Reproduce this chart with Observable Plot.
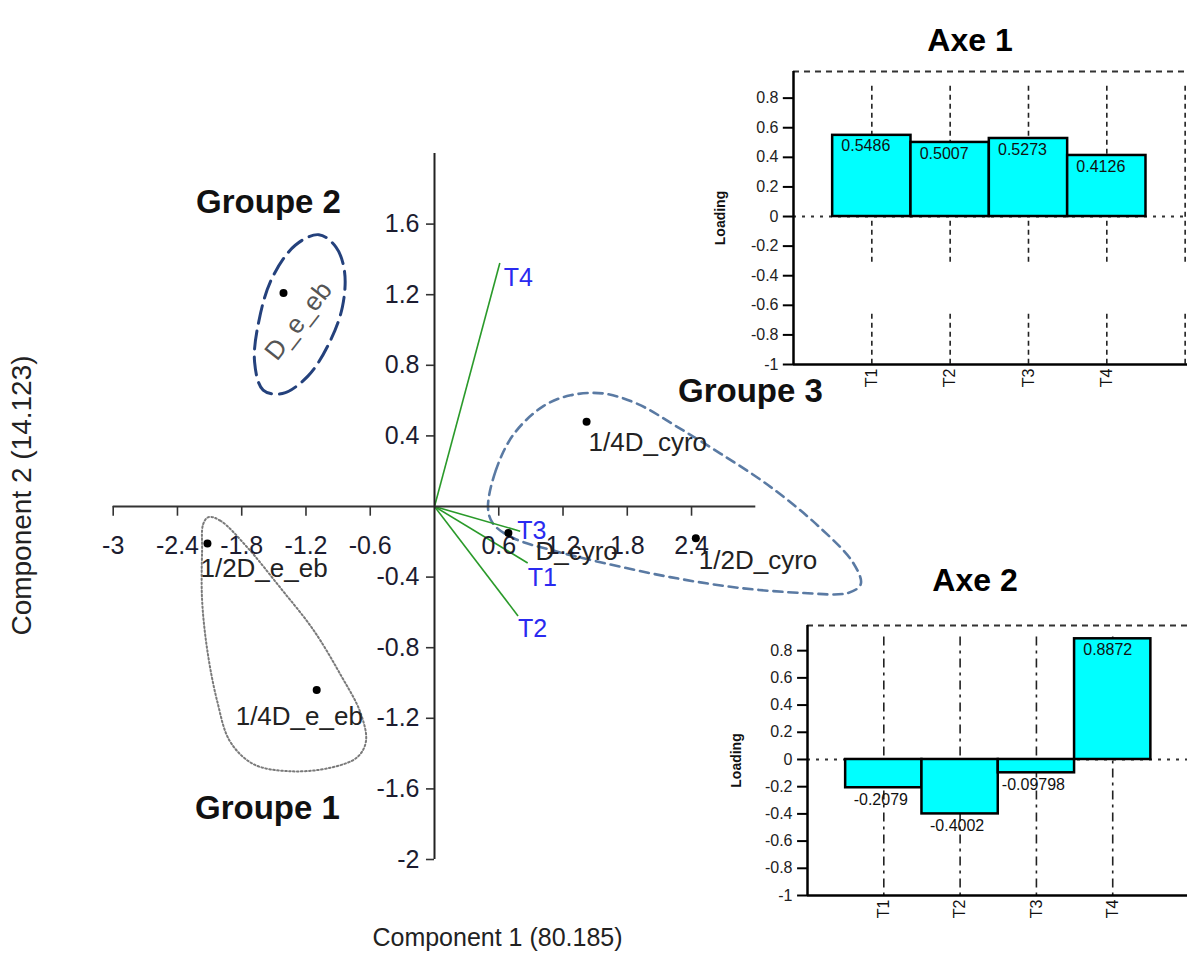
<!DOCTYPE html>
<html><head><meta charset="utf-8">
<script src="https://cdn.jsdelivr.net/npm/d3@7"></script>
<script src="https://cdn.jsdelivr.net/npm/@observablehq/plot@0.6"></script>
<style>
body{margin:0;background:#fff;font-family:"Liberation Sans",Arial,sans-serif;}
#wrap{position:relative;width:1187px;height:965px;overflow:hidden;background:#fff;}
.layer{position:absolute;}
.title{position:absolute;font-weight:bold;font-size:32px;transform:translate(-50%,-50%);white-space:nowrap;color:#000;}
</style></head><body><div id="wrap"></div>
<script>
// ---------- DATA ----------
const sampleNames = ["D_e_eb", "1/2D_e_eb", "1/4D_e_eb", "1/4D_cyro", "D_cyro", "1/2D_cyro"];
const sampleX = [-1.41, -2.12, -1.10, 1.42, 0.69, 2.44];
const sampleY = [1.21, -0.21, -1.04, 0.48, -0.15, -0.18];

const varNames = ["T1", "T2", "T3", "T4"];
const varX = [0.87, 0.78, 0.80, 0.61];
const varY = [-0.32, -0.62, -0.14, 1.38];

const xTicks = [-3, -2.4, -1.8, -1.2, -0.6, 0.6, 1.2, 1.8, 2.4];
const yTicks = [1.6, 1.2, 0.8, 0.4, -0.4, -0.8, -1.2, -1.6, -2];

const groupNames = ["Groupe 1", "Groupe 2", "Groupe 3"];
const groupLabelX = [-1.56, -1.55, 2.95];
const groupLabelY = [-1.71, 1.72, 0.65];

const group1X = [-2.11, -2.00, -1.75, -1.44, -1.13, -0.88, -0.69, -0.64, -0.72, -0.97, -1.35, -1.69, -1.91, -2.03, -2.12, -2.17, -2.17, -2.16];
const group1Y = [-0.06, -0.08, -0.23, -0.46, -0.70, -0.95, -1.17, -1.33, -1.42, -1.48, -1.50, -1.46, -1.33, -1.10, -0.82, -0.53, -0.25, -0.10];
const group2X = [-1.08, -0.92, -0.84, -0.86, -0.98, -1.18, -1.42, -1.60, -1.68, -1.64, -1.52, -1.30];
const group2Y = [1.54, 1.47, 1.33, 1.13, 0.93, 0.74, 0.64, 0.66, 0.82, 1.05, 1.29, 1.48];
const group3X = [0.50, 0.57, 0.74, 1.02, 1.27, 1.58, 1.90, 2.27, 2.67, 3.14, 3.60, 3.91, 3.98, 3.86, 3.45, 2.83, 2.20, 1.58, 1.11, 0.74, 0.55];
const group3Y = [-0.01, 0.20, 0.41, 0.57, 0.63, 0.64, 0.58, 0.45, 0.30, 0.11, -0.12, -0.32, -0.44, -0.49, -0.49, -0.46, -0.40, -0.32, -0.25, -0.18, -0.10];

const loadingCats = ["T1", "T2", "T3", "T4"];
const axe1Loadings = [0.5486, 0.5007, 0.5273, 0.4126];
const axe2Loadings = [-0.2079, -0.4002, -0.09798, 0.8872];
const loadingTicks = [0.8, 0.6, 0.4, 0.2, 0, -0.2, -0.4, -0.6, -0.8, -1];
const gridPositions = [1, 2, 3, 4, 5];

const axisTitleX = "Component 1 (80.185)";
const axisTitleY = "Component 2 (14.123)";
const insetTitles = ["Axe 1", "Axe 2"];
const loadingLabel = "Loading";

// ---------- STYLE / LAYOUT ----------
const FONT = "Liberation Sans, Arial, sans-serif";
const labelStyle = {
  "D_e_eb":    {dx: 15, dy: 28, anchor: "middle", rotate: -52, fill: "#555"},
  "1/2D_e_eb": {dx: -7, dy: 25, anchor: "start", rotate: 0, fill: "#222"},
  "1/4D_e_eb": {dx: -81, dy: 27, anchor: "start", rotate: 0, fill: "#222"},
  "1/4D_cyro": {dx: 2, dy: 21, anchor: "start", rotate: 0, fill: "#222"},
  "D_cyro":    {dx: 27, dy: 19, anchor: "start", rotate: 0, fill: "#222"},
  "1/2D_cyro": {dx: 3, dy: 22, anchor: "start", rotate: 0, fill: "#222"}
};
const varLabelStyle = {T1: {dx: 0, dy: 15}, T2: {dx: 0, dy: 13}, T3: {dx: -3, dy: 0}, T4: {dx: 4, dy: 15}};
const hullStyle = [
  {stroke: "#7a7a7a", dash: "1.6,2.4", width: 2},
  {stroke: "#24417c", dash: "18,8", width: 3},
  {stroke: "#5a7aa3", dash: "9,6", width: 2.6}
];

// ---------- BUILD TABLES ----------
const samples = sampleNames.map((n, i) => ({name: n, x: sampleX[i], y: sampleY[i]}));
const vars = varNames.map((n, i) => ({name: n, x: varX[i], y: varY[i]}));
const groupsXY = [[group1X, group1Y], [group2X, group2Y], [group3X, group3Y]];
const groupLabels = groupNames.map((n, i) => ({name: n, x: groupLabelX[i], y: groupLabelY[i]}));

const wrap = document.getElementById("wrap");

// ---------- MAIN BIPLOT ----------
const mainMarks = [];
groupsXY.forEach(([gx, gy], k) => {
  const pts = gx.map((x, i) => ({x, y: gy[i]}));
  mainMarks.push(Plot.line(pts, {x: "x", y: "y", curve: "catmull-rom-closed", stroke: hullStyle[k].stroke,
    strokeDasharray: hullStyle[k].dash, strokeWidth: hullStyle[k].width, fill: "none"}));
});
mainMarks.push(
  Plot.link(vars, {x1: 0, y1: 0, x2: "x", y2: "y", stroke: "#2a9a2a", strokeWidth: 1.6}),
  Plot.ruleY([0], {stroke: "#333", strokeWidth: 2}),
  Plot.ruleX([0], {stroke: "#222", strokeWidth: 2}),
  Plot.ruleX(xTicks, {x: d => d, y1: 0, y2: -0.055, stroke: "#333", strokeWidth: 1.6}),
  Plot.ruleY(yTicks, {y: d => d, x1: -0.075, x2: 0, stroke: "#333", strokeWidth: 1.6}),
  Plot.text(xTicks, {x: d => d, y: 0, text: d => String(d), dy: 39, fontSize: 25, fill: "#1c1c30"}),
  Plot.text(yTicks, {x: 0, y: d => d, text: d => String(d), dx: -15, textAnchor: "end", fontSize: 25, fill: "#1c1c30"}),
  Plot.dot(samples, {x: "x", y: "y", r: 4, fill: "#000", stroke: "none"})
);
samples.forEach(s => {
  const st = labelStyle[s.name];
  mainMarks.push(Plot.text([s], {x: "x", y: "y", text: "name", dx: st.dx, dy: st.dy, textAnchor: st.anchor,
    rotate: st.rotate, fontSize: 26, fill: st.fill}));
});
vars.forEach(v => {
  const st = varLabelStyle[v.name];
  mainMarks.push(Plot.text([v], {x: "x", y: "y", text: "name", dx: st.dx, dy: st.dy, textAnchor: "start",
    fontSize: 25, fill: "#2a2af0"}));
});
mainMarks.push(
  Plot.text(groupLabels, {x: "x", y: "y", text: "name", fontSize: 33, fontWeight: "bold", fill: "#111"}),
  Plot.text([axisTitleX], {frameAnchor: "bottom", textAnchor: "middle", dx: 63, dy: 86, fontSize: 25, fill: "#222"}),
  Plot.text([axisTitleY], {frameAnchor: "left", textAnchor: "middle", dx: -91, dy: -11, rotate: -90, fontSize: 28, fill: "#222"})
);

const main = Plot.plot({
  width: 1187, height: 965,
  marginLeft: 112.7, marginRight: 431.7, marginTop: 153, marginBottom: 106,
  style: {fontFamily: FONT, background: "transparent", overflow: "visible"},
  x: {domain: [-3, 3], axis: null},
  y: {domain: [-2, 2], axis: null},
  marks: mainMarks
});
const mainDiv = document.createElement("div");
mainDiv.className = "layer"; mainDiv.style.left = "0px"; mainDiv.style.top = "0px";
mainDiv.appendChild(main);
wrap.appendChild(mainDiv);

// ---------- INSETS ----------
function inset(values, cfg) {
  const rows = loadingCats.map((c, i) => ({cat: c, pos: i + 1, v: values[i]}));
  const top = cfg.yd[1], bottom = cfg.yd[0];
  return Plot.plot({
    width: cfg.width, height: cfg.height,
    marginLeft: cfg.ml, marginRight: 0, marginTop: cfg.mt, marginBottom: cfg.mb,
    style: {fontFamily: FONT, background: "transparent", overflow: "visible"},
    x: {domain: cfg.xd, axis: null},
    y: {domain: cfg.yd, axis: null},
    marks: [
      ...cfg.grid.map(([a, b]) => Plot.ruleX(gridPositions, {x: d => d, y1: a, y2: b, stroke: "#222",
        strokeWidth: 1.6, strokeDasharray: cfg.gridDash})),
      Plot.ruleY([0], {stroke: "#333", strokeWidth: 1.8, strokeDasharray: "3,6"}),
      Plot.ruleY([top], {stroke: "#333", strokeWidth: 2, strokeDasharray: "6,5"}),
      Plot.rect(rows, {x1: d => d.pos - 0.5, x2: d => d.pos + 0.5, y1: 0, y2: "v", fill: "#00ffff",
        stroke: "#000", strokeWidth: 2.5}),
      Plot.ruleX([0], {stroke: "#000", strokeWidth: 2.5}),
      Plot.ruleY([bottom], {stroke: "#000", strokeWidth: 2.5}),
      Plot.ruleY(loadingTicks, {y: d => d, x1: -cfg.tick, x2: 0, stroke: "#000", strokeWidth: 2}),
      Plot.text(loadingTicks, {x: 0, y: d => d, text: d => String(d), dx: -15, textAnchor: "end",
        fontSize: 16, fill: "#222"}),
      Plot.text(rows, {x: "pos", y: bottom, text: "cat", rotate: -90, textAnchor: "end", dy: 4,
        fontSize: 16, fill: "#111"}),
      Plot.text(rows.filter(d => d.v >= 0), {x: "pos", y: "v", text: d => String(d.v), dx: cfg.posDx, dy: 11,
        fontSize: 16, fill: "#111"}),
      Plot.text(rows.filter(d => d.v < 0), {x: "pos", y: "v", text: d => String(d.v), dx: -3, dy: 12,
        fontSize: 16, fill: "#111"}),
      Plot.text([loadingLabel], {frameAnchor: "left", textAnchor: "middle", dx: cfg.labelDx, rotate: -90,
        fontWeight: "bold", fontSize: 14, fill: "#111"})
    ]
  });
}

const axe1 = inset(axe1Loadings, {
  width: 497, height: 345, ml: 103, mt: 16, mb: 36,
  xd: [0, 5.03], yd: [-1, 0.98], tick: 0.13,
  grid: [[0.88, -0.31], [-0.66, -1]], gridDash: "5,4", posDx: -6, labelDx: -73
});
const axe2 = inset(axe2Loadings, {
  width: 487, height: 330, ml: 107, mt: 25, mb: 35,
  xd: [0, 4.98], yd: [-1, 0.985], tick: 0.13,
  grid: [[0.9, -1]], gridDash: "9,5,3,5", posDx: -5, labelDx: -71
});
[[axe1, 690, 55], [axe2, 700, 600]].forEach(([svg, l, t]) => {
  const d = document.createElement("div");
  d.className = "layer"; d.style.left = l + "px"; d.style.top = t + "px";
  d.appendChild(svg);
  wrap.appendChild(d);
});
[[insetTitles[0], 970, 40], [insetTitles[1], 975, 580]].forEach(([txt, x, y]) => {
  const d = document.createElement("div");
  d.className = "title"; d.textContent = txt;
  d.style.left = x + "px"; d.style.top = y + "px";
  wrap.appendChild(d);
});
</script></body></html>
